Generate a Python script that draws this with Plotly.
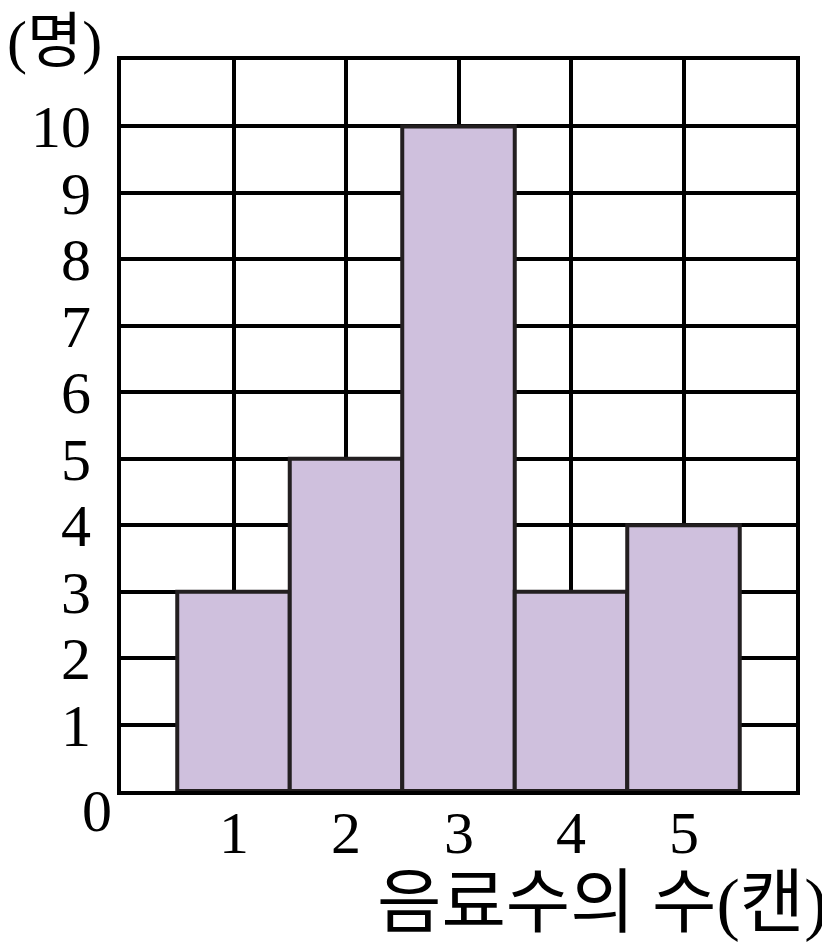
import plotly.graph_objects as go

categories = [1, 2, 3, 4, 5]
counts = [3, 5, 10, 3, 4]
y_ticks = [1, 2, 3, 4, 5, 6, 7, 8, 9, 10]
x_title = "음료수의 수(캔)"
y_title = "(명)"

FONT = "Liberation Serif, Noto Sans CJK KR, serif"

fig = go.Figure()
fig.add_trace(go.Bar(
    x=categories, y=counts, width=1,
    marker=dict(color="#CFC0DD", line=dict(color="#231F20", width=4)),
))

fig.update_layout(
    width=830, height=946,
    margin=dict(l=113, r=42, t=52, b=163),
    paper_bgcolor="white", plot_bgcolor="white",
    showlegend=False,
    font=dict(family=FONT, size=60, color="black"),
)
fig.update_xaxes(
    range=[0, 6], tickmode="linear", tick0=0, dtick=1,
    showticklabels=False,
    showgrid=True, gridcolor="black", gridwidth=4,
    showline=True, linecolor="black", linewidth=4, mirror=True,
    ticks="", zeroline=False,
)
fig.update_yaxes(
    range=[0, 11], tickmode="array", tickvals=y_ticks,
    ticktext=[str(t) for t in y_ticks],
    showgrid=True, gridcolor="black", gridwidth=4,
    showline=True, linecolor="black", linewidth=4, mirror=True,
    ticks="", ticklabelstandoff=14, zeroline=False,
    tickfont=dict(family=FONT, size=60),
)

# x tick labels positioned on the x scale
for c in categories:
    fig.add_annotation(text=str(c), x=c, xref="x", y=0, yref="paper",
                       xanchor="center", yanchor="middle", yshift=-42,
                       showarrow=False, font=dict(family=FONT, size=60))

fig.add_annotation(text="0", xref="paper", yref="paper", x=-0.035, y=0,
                   xanchor="center", yanchor="middle", yshift=-20, showarrow=False,
                   font=dict(family=FONT, size=60))
fig.add_annotation(text=y_title, xref="paper", yref="paper", x=-0.172, y=1,
                   xanchor="left", yanchor="middle", yshift=18, showarrow=False,
                   font=dict(family=FONT, size=60))
fig.add_annotation(text=x_title, xref="paper", yref="paper", x=1.05, y=0,
                   xanchor="right", yanchor="middle", yshift=-112, showarrow=False,
                   font=dict(family=FONT, size=70))

fig.write_html("out.html")
